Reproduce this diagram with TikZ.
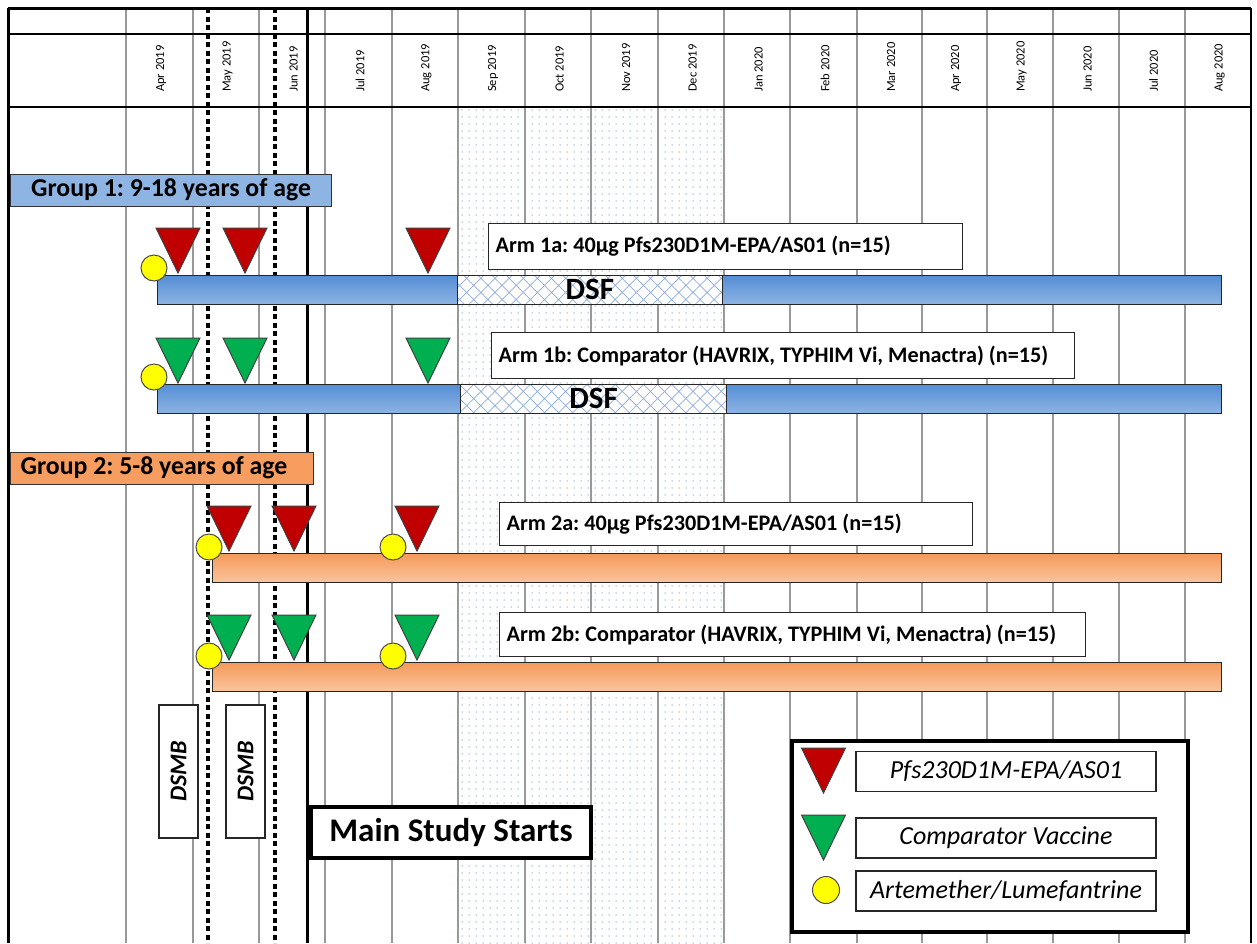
\documentclass[tikz,border=0pt]{standalone}
\usepackage{fontspec}
\setmainfont{Carlito}
\usetikzlibrary{patterns.meta}
\definecolor{vaxred}{HTML}{C00000}
\definecolor{vaxgreen}{HTML}{00B050}
\definecolor{amlyellow}{HTML}{FFFF00}
\definecolor{grpblue}{HTML}{8DB4E2}
\definecolor{grporange}{HTML}{F79D5F}
\definecolor{bluetop}{HTML}{558ED5}
\definecolor{bluebot}{HTML}{8EB4E3}
\definecolor{orgtop}{HTML}{F59A5A}
\definecolor{orgbot}{HTML}{FAC49E}
\definecolor{gridgray}{HTML}{999999}
\definecolor{hatchblue}{HTML}{8FAEDA}
\definecolor{dotblue}{HTML}{95B3D7}
\frenchspacing

\newcommand{\dose}[3]{%
  \filldraw[fill=#3,draw=black!75,line width=1] (#1-22,#2) -- (#1+22,#2) -- (#1,#2+45) -- cycle;}

\begin{document}
\begin{tikzpicture}[x=1pt,y=-1pt]
\tikzstyle{month}=[rotate=90,anchor=west,inner sep=0pt,font=\fontsize{12.5}{14}\selectfont]
\tikzstyle{monthline}=[draw=gridgray,line width=1.2]
\tikzstyle{dsmbline}=[line width=3.4,dash pattern=on 5pt off 3.5pt]
\tikzstyle{grpbox}=[draw=black!80,line width=1.2,anchor=north west,inner xsep=10pt,inner ysep=0pt,minimum height=32,text height=17,text depth=5,font=\fontsize{25.8}{28}\selectfont\bfseries]
\tikzstyle{bluebar}=[draw=black!85,line width=1.2,anchor=north west,minimum height=29,inner sep=0pt,top color=bluetop,bottom color=bluebot]
\tikzstyle{orangebar}=[bluebar,top color=orgtop,bottom color=orgbot]
\tikzstyle{dsf}=[draw=black!85,line width=1.2,anchor=north west,minimum height=29,inner sep=0pt,text height=19,text depth=0,preaction={fill=white},pattern={Hatch[angle=45,distance=10pt,line width=0.7pt]},pattern color=hatchblue,font=\fontsize{31}{31}\selectfont\bfseries]
\tikzstyle{armbox}=[draw=black!85,line width=1.2,fill=white,anchor=north west,inner xsep=7pt,inner ysep=0pt,align=flush left,font=\fontsize{22.2}{24}\selectfont\bfseries]
\tikzstyle{aml}=[circle,draw=black!70,line width=1,fill=amlyellow,minimum size=26,inner sep=0pt]
\tikzstyle{dsmb}=[draw=black!85,line width=1.2,fill=white,rotate=90,minimum width=133,minimum height=39,inner sep=0pt,font=\fontsize{24}{26}\selectfont\bfseries\itshape]
\tikzstyle{startbox}=[draw=black,line width=4,fill=white,anchor=north west,minimum width=280,minimum height=51,inner sep=0pt,font=\fontsize{33}{35}\selectfont\bfseries]
\tikzstyle{keyframe}=[draw=black,line width=4,fill=white,anchor=north west,minimum width=396,minimum height=191,inner sep=0pt]
\tikzstyle{keybox}=[draw=black!85,line width=1.2,fill=white,minimum width=300,minimum height=40,inner sep=2pt,font=\fontsize{26}{28}\selectfont\itshape]

\useasboundingbox (0,0) rectangle (1257,943);
\fill[white] (0,0) rectangle (1257,943);
\path[pattern={Dots[distance=7pt,radius=0.75pt]},pattern color=dotblue] (458,108) rectangle (724,943);

\foreach \gx in {126,193,259,325,392,458,525,591,658,724,790,857,922,987,1053,1119,1185}
  \draw[monthline] (\gx,8) -- (\gx,943);

\draw[line width=3] (8,8) -- (1251,8);
\draw[line width=2] (8,34) -- (1251,34);
\draw[line width=2] (8,107) -- (1251,107);
\draw[line width=3] (8,8) -- (8,943);
\draw[line width=2] (1251,8) -- (1251,943);
\draw[line width=3] (307,8) -- (307,943);
\draw[dsmbline] (208,8) -- (208,943);
\draw[dsmbline] (275,8) -- (275,943);

\foreach \mx/\mname [count=\i] in {161/Apr 2019,227.5/May 2019,293.5/Jun 2019,360/Jul 2019,426.5/Aug 2019,493/Sep 2019,559.5/Oct 2019,626/Nov 2019,692.5/Dec 2019,758.5/Jan 2020,825/Feb 2020,891/Mar 2020,956/Apr 2020,1021.5/May 2020,1087.5/Jun 2020,1153.5/Jul 2020,1219.5/Aug 2020}
  \node[month] (m\i) at (\mx,92) {\mname};

\node[grpbox,fill=grpblue,minimum width=321] (grp1) at (10,174) {Group 1: 9-18 years of age};
\node[grpbox,fill=grporange,minimum width=303,text width=283,align=flush left] (grp2) at (10,452) {Group 2: 5-8 years of age};

\node[bluebar,minimum width=1064] (bar1a) at (157,275) {};
\node[dsf,minimum width=265] (dsf1a) at (457,275) {DSF};
\node[bluebar,minimum width=1064] (bar1b) at (157,384) {};
\node[dsf,minimum width=266] (dsf1b) at (460,384) {DSF};
\node[orangebar,minimum width=1009] (bar2a) at (212,553) {};
\node[orangebar,minimum width=1009] (bar2b) at (212,662) {};

\node[armbox,text width=460,minimum height=46] (arm1a) at (488,223) {Arm 1a: 40µg Pfs230D1M-EPA/AS01 (n=15)};
\node[armbox,text width=569,minimum height=46] (arm1b) at (491,332) {Arm 1b: Comparator (HAVRIX, TYPHIM Vi, Menactra) (n=15)};
\node[armbox,text width=459,minimum height=43] (arm2a) at (499,502) {Arm 2a: 40µg Pfs230D1M-EPA/AS01 (n=15)};
\node[armbox,text width=572,minimum height=44] (arm2b) at (499,612) {Arm 2b: Comparator (HAVRIX, TYPHIM Vi, Menactra) (n=15)};

\dose{178}{228}{vaxred}
\dose{245}{228}{vaxred}
\dose{428}{228}{vaxred}
\dose{178}{338}{vaxgreen}
\dose{245}{338}{vaxgreen}
\dose{428}{338}{vaxgreen}
\dose{229}{506}{vaxred}
\dose{294}{506}{vaxred}
\dose{417}{506}{vaxred}
\dose{229}{615}{vaxgreen}
\dose{294}{615}{vaxgreen}
\dose{417}{615}{vaxgreen}

\node[aml] (c1a) at (154,268) {};
\node[aml] (c1b) at (154,377) {};
\node[aml] (c2a) at (209,547) {};
\node[aml] (c2a2) at (393,547) {};
\node[aml] (c2b) at (209,656) {};
\node[aml] (c2b2) at (393,656) {};

\node[dsmb] (dsmb1) at (178.5,771.5) {DSMB};
\node[dsmb] (dsmb2) at (245.5,771.5) {DSMB};
\node[startbox] (start) at (309,805) {Main Study Starts};

\node[keyframe] (key) at (790,739) {};
\dose{823.5}{748}{vaxred}
\dose{823.5}{815}{vaxgreen}
\node[aml,minimum size=27] (keyaml) at (826,890) {};
\node[keybox] (key1) at (1006,771.5) {Pfs230D1M-EPA/AS01};
\node[keybox] (key2) at (1006,838) {Comparator Vaccine};
\node[keybox] (key3) at (1006,891) {Artemether/Lumefantrine};
\end{tikzpicture}
\end{document}
